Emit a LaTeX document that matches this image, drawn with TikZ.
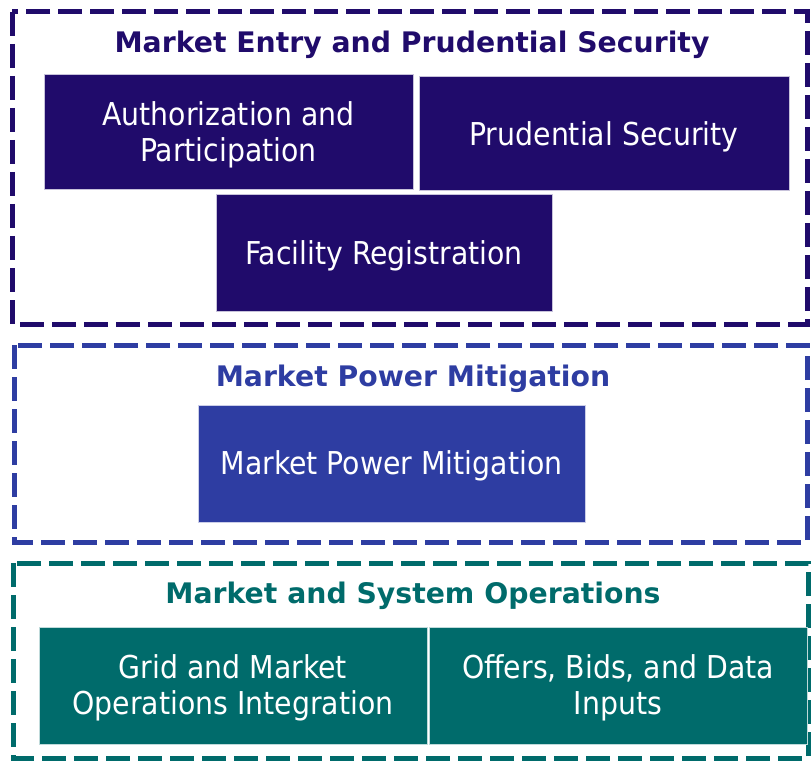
\documentclass[tikz,border=0pt]{standalone}
\usepackage{fontspec}
\setmainfont{DejaVu Sans Condensed}
\newfontfamily\headingfont{DejaVu Sans}
\usepackage{xcolor}
\definecolor{entrypurple}{HTML}{200B6B}
\definecolor{powerblue}{HTML}{2E3DA2}
\definecolor{opsteal}{HTML}{006B6B}
\newcommand{\tallstrut}{\rule{0pt}{29pt}}

\tikzset{
  frame/.style={draw=#1, line width=5pt, dash pattern=on 24pt off 8pt},
  heading/.style={text=#1, font=\headingfont\fontsize{28.3}{32}\selectfont\bfseries},
  block/.style={fill=#1, draw=white!75!#1, line width=1pt, text=white,
    align=center, inner sep=0pt, font=\fontsize{31.5}{35.5}\selectfont,
    execute at begin node={\tallstrut}}
}

\begin{document}
\begin{tikzpicture}[x=1pt,y=-1pt]
    \useasboundingbox (0,0) rectangle (811,762);
    % market entry
    \draw[frame=entrypurple] (12,12) rectangle (807,324);
    \node[heading=entrypurple] (entrytitle) at (412,45) {Market Entry and Prudential Security};
    \node[block=entrypurple, minimum width=369pt, minimum height=115pt] (auth) at (228.5,132.5) {\tallstrut Authorization and\\Participation};
    \node[block=entrypurple, minimum width=370pt, minimum height=114pt] (prud) at (604,134) {Prudential Security};
    \node[block=entrypurple, minimum width=336pt, minimum height=116pt] (facility) at (384,253) {Facility Registration};
    % market power
    \draw[frame=powerblue] (14,345) rectangle (807,542);
    \node[heading=powerblue] (powertitle) at (413,379) {Market Power Mitigation};
    \node[block=powerblue, minimum width=387pt, minimum height=117pt] (power) at (391.5,463.5) {Market Power Mitigation};
    % operations
    \draw[frame=opsteal] (13,563) rectangle (808,758);
    \node[heading=opsteal] (opstitle) at (413,596) {Market and System Operations};
    \node[block=opsteal, minimum width=388pt, minimum height=117pt] (grid) at (233,685.5) {\tallstrut Grid and Market\\Operations Integration};
    \node[block=opsteal, minimum width=378pt, minimum height=117pt] (offers) at (618,685.5) {\tallstrut Offers, Bids, and Data\\Inputs};
\end{tikzpicture}
\end{document}
